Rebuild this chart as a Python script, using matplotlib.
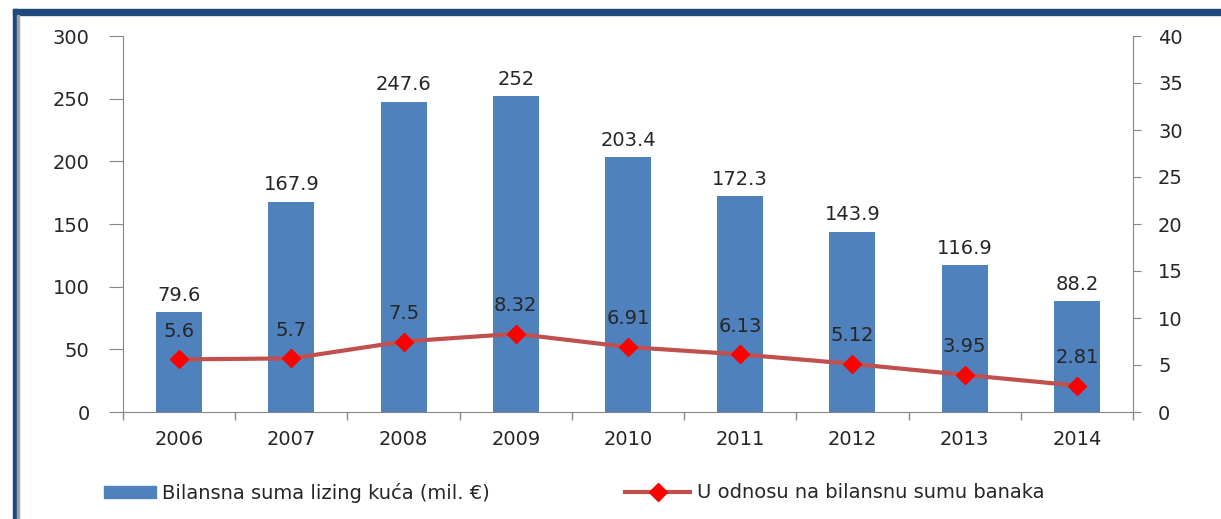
import matplotlib
matplotlib.use("Agg")
import matplotlib.pyplot as plt
from matplotlib.lines import Line2D
from matplotlib.patches import Rectangle

years = ["2006", "2007", "2008", "2009", "2010", "2011", "2012", "2013", "2014"]
bilansna = [79.6, 167.9, 247.6, 252, 203.4, 172.3, 143.9, 116.9, 88.2]
odnos = [5.6, 5.7, 7.5, 8.32, 6.91, 6.13, 5.12, 3.95, 2.81]
bar_labels = ["79.6", "167.9", "247.6", "252", "203.4", "172.3", "143.9", "116.9", "88.2"]
line_labels = ["5.6", "5.7", "7.5", "8.32", "6.91", "6.13", "5.12", "3.95", "2.81"]
left_ticks = [0, 50, 100, 150, 200, 250, 300]
right_ticks = [0, 5, 10, 15, 20, 25, 30, 35, 40]

plt.rcParams['font.family'] = ['DejaVu Sans']
FS = 14
TXT = "#262626"
W, H = 1221, 519
fig = plt.figure(figsize=(W / 100, H / 100), dpi=100)

# frame decoration
fig.patches.append(Rectangle((13 / W, 0), 4 / W, 1 - 9 / H, transform=fig.transFigure,
                             color="#1F497D", zorder=0))
fig.patches.append(Rectangle((13 / W, 1 - 15 / H), 1 - 13 / W, 6 / H, transform=fig.transFigure,
                             color="#1F497D", zorder=0))
fig.patches.append(Rectangle((17 / W, 0), 1.5 / W, 1 - 15 / H, transform=fig.transFigure,
                             color="#A0A0A0", zorder=0))

ax_l, ax_r, ax_t, ax_b = 123, 1133, 36, 412
ax = fig.add_axes([ax_l / W, 1 - ax_b / H, (ax_r - ax_l) / W, (ax_b - ax_t) / H])
ax2 = ax.twinx()

x = list(range(len(years)))
ax.bar(x, bilansna, width=0.41, color="#4F81BD", zorder=2)
ax.set_xlim(-0.5, len(years) - 0.5)
ax.set_ylim(0, 300)
ax.set_yticks(left_ticks)
ax.set_xticks(x)
ax.set_xticklabels(years)
ax.set_xticks([i - 0.5 for i in range(len(years) + 1)], minor=True)
ax.tick_params(axis='x', which='major', length=0, pad=13, labelsize=FS, colors=TXT)
ax.tick_params(axis='x', which='minor', length=6, color="#868686", width=1)
ax.tick_params(axis='y', length=10, color="#868686", labelsize=FS, pad=14, labelcolor=TXT)

for i, v in enumerate(bilansna):
    ax.text(i, v + 6, bar_labels[i], ha='center', va='bottom', fontsize=FS, color=TXT)

ax2.plot(x, odnos, color="#C0504D", lw=3, marker='D', markersize=9,
         markerfacecolor="#FF0000", markeredgecolor="#FF0000", zorder=3)
ax2.set_ylim(0, 40)
ax2.set_yticks(right_ticks)
ax2.tick_params(axis='y', length=6, color="#868686", labelsize=FS, pad=12, labelcolor=TXT)
for i, v in enumerate(odnos):
    ax2.text(i, v + 2.0, line_labels[i], ha='center', va='bottom', fontsize=FS, color=TXT)

for a in (ax, ax2):
    for s in a.spines.values():
        s.set_color("#868686")
    a.spines['top'].set_visible(False)
ax.spines['right'].set_visible(False)
ax2.spines['left'].set_visible(False)
ax2.spines['bottom'].set_visible(False)

bar_handle = Rectangle((0, 0), 1, 1, color="#4F81BD")
line_handle = Line2D([0], [0], color="#C0504D", lw=3, marker='D', markersize=9,
                     markerfacecolor="#FF0000", markeredgecolor="#FF0000")
leg1 = fig.legend([bar_handle], ["Bilansna suma lizing kuća (mil. €)"],
                  loc='center left', bbox_to_anchor=(104 / W, 1 - 493 / H), frameon=False,
                  fontsize=FS, handlelength=2.65, handleheight=0.55, handletextpad=0.35,
                  borderpad=0, borderaxespad=0, labelcolor=TXT)
leg2 = fig.legend([line_handle], ["U odnosu na bilansnu sumu banaka"],
                  loc='center left', bbox_to_anchor=(625 / W, 1 - 493 / H), frameon=False,
                  fontsize=FS, handlelength=3.35, handletextpad=0.35,
                  borderpad=0, borderaxespad=0, labelcolor=TXT)

fig.savefig("out.png", dpi=100)
